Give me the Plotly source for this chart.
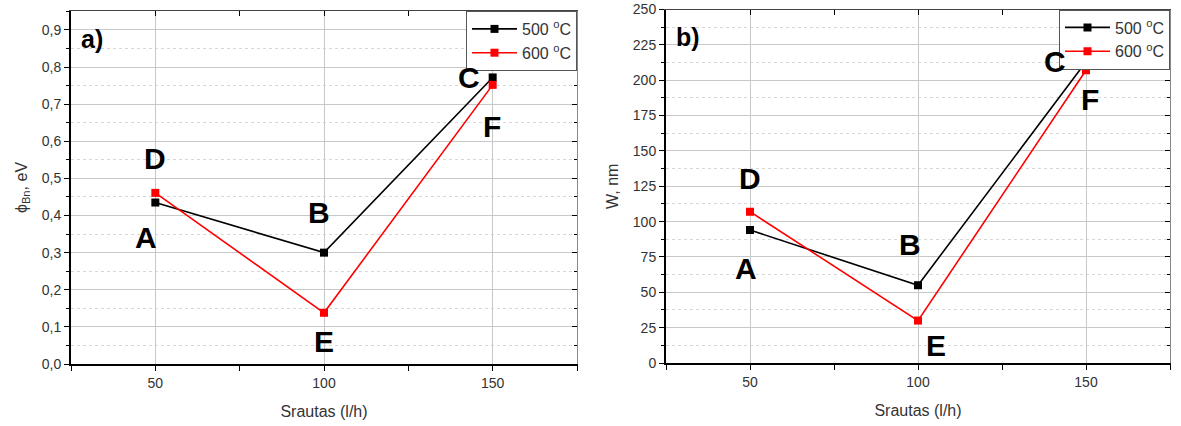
import plotly.graph_objects as go

# Flow rate (l/h)
flow = [50, 100, 150]

# Barrier height, eV
phi_500 = [0.435, 0.30, 0.772]
phi_600 = [0.461, 0.138, 0.752]

# Depletion width, nm
w_500 = [94, 55, 213]
w_600 = [107, 30, 207]

series_names = ["500 <sup>o</sup>C", "600 <sup>o</sup>C"]

FONT = "Liberation Sans, Arial, sans-serif"
BLACK = "#000000"
RED = "#ff0000"

fig = go.Figure()

def add_series(xref, yref, y500, y600, legend):
    for ys, name, col in ((y500, series_names[0], BLACK), (y600, series_names[1], RED)):
        fig.add_trace(go.Scatter(
            x=flow, y=ys, name=name, mode="lines+markers",
            line=dict(color=col, width=1.6),
            marker=dict(symbol="square", size=8, color=col),
            xaxis=xref, yaxis=yref, legend=legend, showlegend=True))

add_series("x", "y", phi_500, phi_600, "legend")
add_series("x2", "y2", w_500, w_600, "legend2")

dom_a = [71 / 1181, 577 / 1181]
dom_b = [666 / 1181, 1170 / 1181]
ydom_a = [1 - 364 / 426, 1 - 11 / 426]
ydom_b = [1 - 363 / 426, 1 - 9.5 / 426]

tickfont = dict(family=FONT, size=14, color="#333333")
titlefont = dict(family=FONT, size=16, color="#333333")

def xaxis_cfg(domain, anchor):
    return dict(
        domain=domain, anchor=anchor, range=[25, 175], automargin=False,
        tickvals=flow, ticktext=[str(v) for v in flow],
        ticks="outside", ticklen=5, tickwidth=1.2, tickcolor="#000",
        showline=True, linecolor="#000", linewidth=2,
        showgrid=True, gridcolor="#c8c8c8", gridwidth=1,
        zeroline=False, tickfont=tickfont,
        title=dict(text="Srautas (l/h)", font=titlefont, standoff=16),
        minor=dict(dtick=25, tick0=25, ticks="outside", ticklen=5,
                   tickcolor="#000", showgrid=False),
    )

def yaxis_cfg(domain, anchor, rng, dtick, vals, text, title, standoff):
    return dict(
        domain=domain, anchor=anchor, range=rng, automargin=False,
        tickvals=vals, ticktext=text,
        ticks="outside", ticklen=5, tickwidth=1.2, tickcolor="#000",
        showline=True, linecolor="#000", linewidth=2,
        showgrid=True, gridcolor="#c8c8c8", gridwidth=1,
        zeroline=False, tickfont=tickfont,
        title=dict(text=title, font=titlefont, standoff=standoff),
        minor=dict(dtick=dtick / 2, tick0=0, ticks="outside", ticklen=3,
                   tickcolor="#000", showgrid=True, gridcolor="#d8d8d8",
                   griddash="dot", gridwidth=1),
    )

phi_ticks = [i / 10 for i in range(10)]
phi_text = [f"{v:.1f}".replace(".", ",") for v in phi_ticks]
w_ticks = list(range(0, 251, 25))
w_text = [str(v) for v in w_ticks]

# Mirror axes with inward ticks on the top and right sides
def top_axis(domain, overlay, anchor):
    return dict(domain=domain, overlaying=overlay, anchor=anchor, side="top",
                range=[25, 175], automargin=False,
                tickvals=flow, ticks="inside", ticklen=5, tickcolor="#000",
                showticklabels=False, showline=True, linecolor="#444",
                linewidth=1.2, showgrid=False, zeroline=False,
                minor=dict(dtick=25, tick0=25, ticks="inside", ticklen=5,
                           tickcolor="#000"))

def right_axis(domain, overlay, anchor, rng, dtick):
    return dict(domain=domain, overlaying=overlay, anchor=anchor, side="right",
                range=rng, automargin=False,
                dtick=dtick, tick0=0, ticks="inside", ticklen=5,
                tickcolor="#000", showticklabels=False, showline=True,
                linecolor="#888", linewidth=1.2, showgrid=False,
                zeroline=False,
                minor=dict(dtick=dtick / 2, tick0=0, ticks="inside",
                           ticklen=3, tickcolor="#000"))

legend_style = dict(xanchor="right", yanchor="top",
                    bgcolor="white", bordercolor="#555", borderwidth=1,
                    font=dict(family=FONT, size=16, color="#333"),
                    itemwidth=45, tracegroupgap=0)

fig.update_layout(
    width=1181, height=426,
    margin=dict(l=0, r=0, t=0, b=0, autoexpand=False),
    paper_bgcolor="white", plot_bgcolor="white",
    font=dict(family=FONT),
    xaxis=xaxis_cfg(dom_a, "y"),
    yaxis=yaxis_cfg(ydom_a, "x", [0, 0.951], 0.1, phi_ticks, phi_text,
                    "ϕ<sub>Bn</sub>, eV", 10),
    xaxis2=xaxis_cfg(dom_b, "y2"),
    yaxis2=yaxis_cfg(ydom_b, "x2", [0, 250], 25, w_ticks, w_text, "W, nm", 10),
    xaxis3=top_axis(dom_a, "x", "y"),
    yaxis3=right_axis(ydom_a, "y", "x", [0, 0.951], 0.1),
    xaxis4=top_axis(dom_b, "x2", "y2"),
    yaxis4=right_axis(ydom_b, "y2", "x2", [0, 250], 25),
    legend=dict(legend_style, x=dom_a[1], y=ydom_a[1]),
    legend2=dict(legend_style, x=dom_b[1], y=ydom_b[1]),
)

# Invisible traces so the mirror axes are rendered
for xr, yr in (("x3", "y"), ("x", "y3"), ("x4", "y2"), ("x2", "y4")):
    fig.add_trace(go.Scatter(x=[None], y=[None], xaxis=xr, yaxis=yr,
                             showlegend=False, hoverinfo="skip"))

label_font = dict(family=FONT, size=30, color="#000")

def letter(text, xref, yref, x, y, xs, ys):
    fig.add_annotation(text=f"<b>{text}</b>", x=x, y=y, xref=xref, yref=yref,
                       xshift=xs, yshift=ys, showarrow=False, font=label_font)

# Panel a) point letters
letter("A", "x", "y", flow[0], phi_500[0], -9, -35)
letter("B", "x", "y", flow[1], phi_500[1], -5, 40)
letter("C", "x", "y", flow[2], phi_500[2], -24, 0)
letter("D", "x", "y", flow[0], phi_600[0], 0, 34)
letter("E", "x", "y", flow[1], phi_600[1], 0, -29)
letter("F", "x", "y", flow[2], phi_600[2], -1, -42)

# Panel b) point letters
letter("A", "x2", "y2", flow[0], w_500[0], -4, -38)
letter("B", "x2", "y2", flow[1], w_500[1], -8, 41)
letter("C", "x2", "y2", flow[2], w_500[2], -31, 0)
letter("D", "x2", "y2", flow[0], w_600[0], 0, 33)
letter("E", "x2", "y2", flow[1], w_600[1], 18, -25)
letter("F", "x2", "y2", flow[2], w_600[2], 4, -29)

# Panel tags
tag_font = dict(family=FONT, size=25, color="#000")
fig.add_annotation(text="<b>a)</b>", x=dom_a[0] + 8 / 1181, y=ydom_a[1] - 12 / 426,
                   xref="paper", yref="paper", xanchor="left", yanchor="top",
                   showarrow=False, font=tag_font)
fig.add_annotation(text="<b>b)</b>", x=dom_b[0] + 8 / 1181, y=ydom_b[1] - 11 / 426,
                   xref="paper", yref="paper", xanchor="left", yanchor="top",
                   showarrow=False, font=tag_font)

fig.write_html("out.html")
